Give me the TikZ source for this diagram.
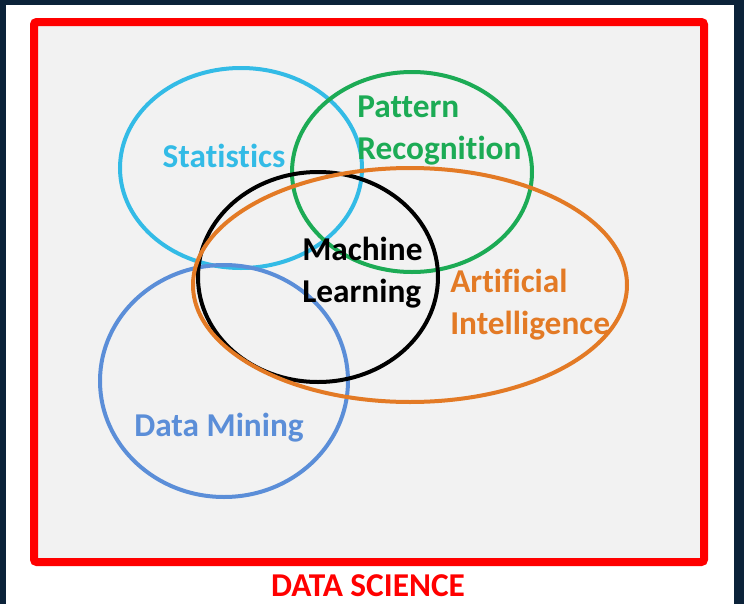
\documentclass[tikz,border=0pt]{standalone}
\usepackage{fontspec}
\setmainfont{Carlito}[Ligatures={NoCommon,NoContextual}]
\usepackage{tikz}
\usetikzlibrary{positioning}

\definecolor{navy}{HTML}{0B2239}
\definecolor{panelgray}{HTML}{F2F2F2}
\definecolor{statcyan}{HTML}{33BBE6}
\definecolor{patgreen}{HTML}{1CAB55}
\definecolor{aiorange}{HTML}{E37A25}
\definecolor{dmblue}{HTML}{5B8ED8}
\definecolor{dsred}{HTML}{FF0000}

\begin{document}
\begin{tikzpicture}[x=0.75pt,y=-0.75pt]
\tikzset{every node/.style={inner sep=0pt, font=\bfseries\fontsize{25}{31.5}\selectfont},
  blob/.style={line width=3pt}}
\useasboundingbox (0,0) rectangle (744,604);
% frame
\fill [navy] (0,0) rectangle (744,604);
\fill [white] (6,5) rectangle (734,604);
\draw [dsred, fill=panelgray, line width=6pt, rounded corners=2pt] (34,22) rectangle (704,562);
% sets
\draw [blob, statcyan] (241,168) ellipse [x radius=90.75pt, y radius=75pt];
\draw [blob, patgreen] (412,172) ellipse [x radius=90pt, y radius=75pt];
\draw [blob, dmblue] (224,381) ellipse [x radius=93pt, y radius=87pt];
\draw [blob, black] (318,277) ellipse [x radius=90pt, y radius=78.75pt];
\draw [blob, aiorange] (410,285) ellipse [x radius=162.75pt, y radius=87.75pt];
% labels
\node [statcyan] (stat) at (224,156) {Statistics};
\node [patgreen, align=left, anchor=west] (pat) at (357,131) {Pattern\\Recognition};
\node [black, align=left, anchor=west] (ml) at (302,273) {Machine\\Learning};
\node [aiorange, align=left, anchor=west] (ai) at (450,305) {Artificial\\Intelligence};
\node [dmblue] (dm) at (219,428) {Data Mining};
\node [dsred] (ds) at (368,586) {DATA SCIENCE};
\end{tikzpicture}
\end{document}
